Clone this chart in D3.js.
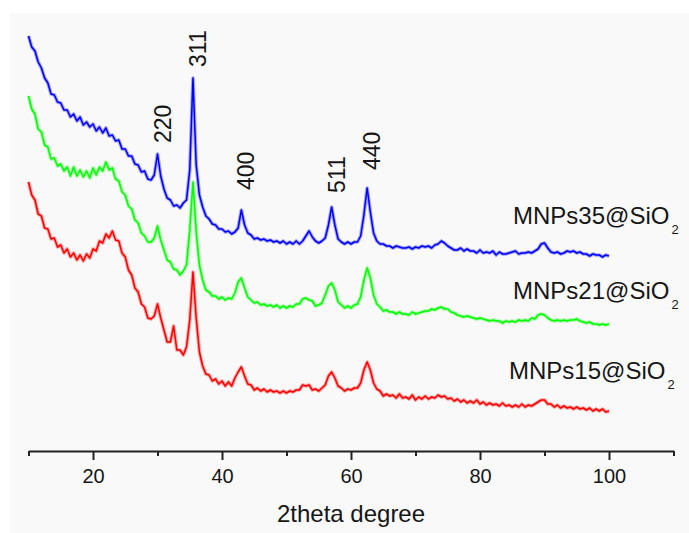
<!DOCTYPE html>
<html>
<head>
<meta charset="utf-8">
<script src="https://cdnjs.cloudflare.com/ajax/libs/d3/7.8.5/d3.min.js"></script>
<style>
  body { margin: 0; background: #ffffff; }
  svg text { font-family: "Liberation Sans", Arial, sans-serif; fill: #161616; }
</style>
</head>
<body>
<div id="xrdDiv"></div>
<script>

// scan grid, 2theta from 10 to 100 deg every 0.5 deg
var twoTheta = d3.range(10, 100.25, 0.5);

// intensities (a.u.), one value per grid step
var blue35 = [416,405,401,390,384,374,369,358,357,350,
  349,342,342,335,338,331,335,327,330,325,
  328,321,325,319,324,316,317,311,312,303,
  303,296,296,288,287,280,281,273,272,277,
  298,276,263,254,252,246,247,244,249,252,
  282,374,287,257,245,236,233,228,227,223,
  223,220,221,218,220,224,242,227,219,217,
  213,214,212,213,211,212,210,211,209,211,
  208,210,208,211,208,211,216,221,215,211,
  209,211,214,227,245,227,213,210,208,210,
  208,210,210,216,237,264,240,219,211,208,
  208,206,206,204,206,205,204,204,205,203,
  205,204,206,205,206,204,207,208,211,209,
  206,204,202,202,204,201,203,201,201,199,
  202,199,200,199,201,197,200,198,198,199,
  200,201,198,199,199,200,199,201,203,208,
  209,204,200,199,200,198,199,201,200,201,
  199,200,198,198,196,198,197,197,195,197,
  196];

var green21 = [356,343,338,323,320,307,305,293,294,286,
  288,281,285,276,285,276,282,275,281,274,
  284,277,285,281,290,282,284,273,271,260,
  257,246,243,232,229,219,216,210,210,214,
  226,212,202,192,190,183,182,177,181,187,
  222,270,220,187,172,162,160,156,156,153,
  155,152,154,153,159,170,174,164,155,152,
  149,150,147,148,146,147,145,147,144,146,
  144,146,145,148,148,153,154,152,151,146,
  147,149,157,166,169,162,150,147,144,146,
  144,147,148,155,172,184,174,157,148,145,
  141,142,140,140,138,140,138,138,137,140,
  138,139,140,141,141,143,142,144,145,143,
  143,140,139,137,136,135,136,135,134,133,
  134,133,132,131,132,131,131,129,131,130,
  131,130,132,131,132,131,134,133,137,138,
  137,134,132,131,132,131,132,131,132,132,
  133,131,130,129,130,128,128,127,128,127,
  128];

var red15 = [270,257,252,238,236,224,223,213,214,205,
  207,199,203,195,199,192,197,191,198,194,
  203,201,211,209,218,214,221,212,211,199,
  195,182,177,164,160,148,145,134,133,136,
  148,134,122,110,110,126,102,102,97,105,
  132,180,134,100,86,78,77,71,73,68,
  71,66,70,66,74,80,85,76,68,67,
  62,64,61,63,60,62,60,61,59,61,
  59,61,60,62,62,67,66,67,62,63,
  61,64,67,76,80,74,66,64,61,63,
  62,64,64,69,82,90,82,69,63,61,
  56,58,56,57,54,58,54,55,53,57,
  52,55,53,56,53,55,54,57,55,56,
  53,54,51,53,50,52,49,51,49,52,
  48,50,47,49,47,48,46,49,46,47,
  45,47,45,48,45,47,46,48,50,52,
  52,48,48,45,47,44,46,44,45,43,
  45,43,44,42,44,41,43,41,43,40,
  41];

var seriesNames = ["MNPs35@SiO", "MNPs21@SiO", "MNPs15@SiO"];
var seriesColors = ["#0000ff", "#00ff00", "#ff0000"];

// hkl labels of the magnetite reflections
var peakLabels = ["220", "311", "400", "511", "440"];
var peakAngles = [30, 35.5, 43, 57, 62.5];

var majorTicks = [20, 40, 60, 80, 100];
var minorTicks = [10, 30, 50, 70, 90, 110];

function xrdPlot(){

	var width = 689, height = 533;

	var svg = d3.select("#xrdDiv")
	  .append("svg")
	    .attr("width", width)
	    .attr("height", height);

	// light grey panel behind the plot
	svg.append("rect")
	    .attr("x", 10)
	    .attr("y", 13)
	    .attr("width", width - 10)
	    .attr("height", height - 13)
	    .attr("fill", "#f9f9f9");

	var x = d3.scaleLinear()
	    .domain([10, 110])
	    .range([28.5, 673.5]);

	var y = d3.scaleLinear()
	    .domain([0, 440])
	    .range([452, 12]);

	var axisY = 451;

	// minor ticks first, then the labelled ones
	svg.append("g")
	    .attr("transform", "translate(0," + axisY + ")")
	    .call(d3.axisBottom(x).tickValues(minorTicks).tickSize(5).tickSizeOuter(0).tickFormat(""))
	    .call(function(g){ g.select(".domain").remove(); })
	    .selectAll("line").attr("stroke", "#222").attr("stroke-width", 2);

	var xAxis = svg.append("g")
	    .attr("transform", "translate(0," + axisY + ")")
	    .call(d3.axisBottom(x).tickValues(majorTicks).tickSize(9).tickSizeOuter(0).tickPadding(9).tickFormat(d3.format("d")));
	xAxis.select(".domain").attr("stroke", "#222").attr("stroke-width", 2);
	xAxis.selectAll("line").attr("stroke", "#222").attr("stroke-width", 2);
	xAxis.selectAll("text")
	    .style("font-size", "20px")
	    .style("font-family", "'Liberation Sans', Arial, sans-serif")
	    .attr("fill", "#161616");

	// x axis title
	svg.append("text")
	    .attr("text-anchor", "middle")
	    .attr("x", 351)
	    .attr("y", 522)
	    .style("font-size", "24px")
	    .text("2theta degree");

	// the three patterns
	var allSeries = [blue35, green21, red15];
	var line = d3.line()
	    .x(function(d, i){ return x(twoTheta[i]); })
	    .y(function(d){ return y(d); });

	// soft wide stroke underneath gives the noisy band look
	svg.selectAll(".fuzz")
	    .data(allSeries)
	    .enter()
	    .append("path")
	    .attr("class", "fuzz")
	    .attr("fill", "none")
	    .attr("stroke", function(d, i){ return seriesColors[i]; })
	    .attr("stroke-width", 3.6)
	    .attr("stroke-opacity", 0.35)
	    .attr("stroke-linejoin", "round")
	    .attr("d", line);

	svg.selectAll(".pattern")
	    .data(allSeries)
	    .enter()
	    .append("path")
	    .attr("class", "pattern")
	    .attr("fill", "none")
	    .attr("stroke", function(d, i){ return seriesColors[i]; })
	    .attr("stroke-width", 1.5)
	    .attr("stroke-linejoin", "round")
	    .attr("d", line);

	// sample names with subscript 2
	var nameX = [513, 513, 509];
	var nameY = [224, 299, 379];
	seriesNames.forEach(function(name, i){
		var t = svg.append("text")
		    .attr("x", nameX[i])
		    .attr("y", nameY[i])
		    .style("font-size", "24px")
		    .text(name);
		t.append("tspan")
		    .attr("dx", 2)
		    .attr("dy", 10)
		    .style("font-size", "13px")
		    .text("2");
	});

	// peak indices, rotated, above the blue pattern
	var labelGap = [11, 11, 20, 14, 18];
	peakLabels.forEach(function(lbl, i){
		var idx = twoTheta.indexOf(peakAngles[i]);
		var px = x(peakAngles[i]) + 13;
		var py = y(blue35[idx]) - labelGap[i];
		svg.append("text")
		    .attr("transform", "translate(" + px + "," + py + ") rotate(-90)")
		    .attr("text-anchor", "start")
		    .style("font-size", "23px")
		    .text(lbl);
	});
}

xrdPlot();
</script>
</body>
</html>
